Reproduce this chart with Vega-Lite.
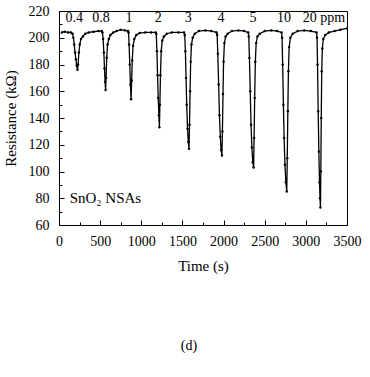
{
  "$schema": "https://vega.github.io/schema/vega-lite/v6.json",
  "width": 288,
  "height": 214,
  "padding": {"left": 3, "top": 4, "right": 20, "bottom": 5},
  "background": "white",
  "config": {
    "view": {"stroke": "black", "strokeWidth": 1},
    "font": "Liberation Serif",
    "axis": {
      "domainColor": "black",
      "tickColor": "black",
      "labelColor": "black",
      "titleColor": "black",
      "labelFont": "Liberation Serif",
      "titleFont": "Liberation Serif",
      "labelFontSize": 14,
      "titleFontSize": 15,
      "titleFontWeight": "normal",
      "labelOverlap": false,
      "labelFlush": false,
      "grid": false
    }
  },
  "title": {
    "text": "(d)",
    "orient": "bottom",
    "offset": 66,
    "anchor": "middle",
    "dx": -14,
    "font": "Liberation Serif",
    "fontSize": 14,
    "fontWeight": "normal",
    "color": "black"
  },
  "resolve": {"axis": {"x": "independent", "y": "independent"}},
  "layer": [
    {
      "data": {"name": "curve"},
      "mark": {"type": "line", "color": "black", "strokeWidth": 1.3, "point": {"filled": true, "size": 6, "color": "black"}},
      "encoding": {
        "x": {"field": "t", "type": "quantitative", "scale": {"domain": [0, 3500], "nice": false},
          "axis": {"title": "Time (s)", "format": "d", "values": [0, 500, 1000, 1500, 2000, 2500, 3000, 3500], "tickSize": -5, "labelPadding": 14, "titlePadding": 10}},
        "y": {"field": "r", "type": "quantitative", "scale": {"domain": [60, 220], "nice": false, "zero": false},
          "axis": {"title": "Resistance (kΩ)", "values": [60, 80, 100, 120, 140, 160, 180, 200, 220], "tickSize": -5, "labelPadding": 15, "titlePadding": 10}}
      }
    },
    {
      "data": {"name": "curve"},
      "mark": {"type": "point", "opacity": 0},
      "encoding": {
        "x": {"field": "t", "type": "quantitative",
          "axis": {"title": null, "labels": false, "domain": false, "values": [250, 750, 1250, 1750, 2250, 2750, 3250], "tickSize": -3, "orient": "bottom"}},
        "y": {"field": "r", "type": "quantitative",
          "axis": {"title": null, "labels": false, "domain": false, "values": [70, 90, 110, 130, 150, 170, 190, 210], "tickSize": -3, "orient": "left"}}
      }
    },
    {
      "data": {"name": "labels"},
      "mark": {"type": "text", "font": "Liberation Serif", "fontSize": 14, "color": "black", "align": "center", "baseline": "middle"},
      "encoding": {
        "x": {"field": "t", "type": "quantitative", "axis": null},
        "y": {"field": "r", "type": "quantitative", "axis": null},
        "text": {"field": "label"}
      }
    },
    {
      "data": {"name": "name"},
      "mark": {"type": "text", "font": "Liberation Serif", "fontSize": 15, "color": "black", "align": "left", "baseline": "middle"},
      "encoding": {
        "x": {"field": "t", "type": "quantitative", "axis": null},
        "y": {"field": "r", "type": "quantitative", "axis": null},
        "text": {"field": "label"}
      }
    }
  ],
  "datasets": {
    "labels": [
      {"t": 185, "r": 215, "label": "0.4"},
      {"t": 510, "r": 215, "label": "0.8"},
      {"t": 850, "r": 215, "label": "1"},
      {"t": 1205, "r": 215, "label": "2"},
      {"t": 1572, "r": 215, "label": "3"},
      {"t": 1968, "r": 215, "label": "4"},
      {"t": 2357, "r": 215, "label": "5"},
      {"t": 2735, "r": 215, "label": "10"},
      {"t": 3220, "r": 215, "label": "20 ppm"}
    ],
    "name": [
      {"t": 130, "r": 80, "label": "SnO₂ NSAs"}
    ],
    "curve": [
      {"t": 35, "r": 204},
      {"t": 70, "r": 204.5},
      {"t": 110, "r": 204},
      {"t": 145, "r": 204},
      {"t": 165, "r": 203},
      {"t": 175, "r": 200},
      {"t": 185, "r": 195},
      {"t": 195, "r": 189},
      {"t": 205, "r": 184},
      {"t": 215, "r": 179},
      {"t": 225, "r": 176},
      {"t": 232, "r": 180},
      {"t": 242, "r": 189},
      {"t": 252, "r": 195},
      {"t": 267, "r": 199},
      {"t": 290, "r": 201},
      {"t": 320, "r": 203},
      {"t": 360, "r": 204},
      {"t": 420, "r": 204.5},
      {"t": 480, "r": 205},
      {"t": 520, "r": 205},
      {"t": 528, "r": 204},
      {"t": 536, "r": 199},
      {"t": 545, "r": 189},
      {"t": 553, "r": 177},
      {"t": 560, "r": 167},
      {"t": 566, "r": 161},
      {"t": 572, "r": 170},
      {"t": 580, "r": 185},
      {"t": 590, "r": 195},
      {"t": 605, "r": 199},
      {"t": 625, "r": 202},
      {"t": 660, "r": 204},
      {"t": 700, "r": 205},
      {"t": 750, "r": 206},
      {"t": 800, "r": 205.5},
      {"t": 840, "r": 205},
      {"t": 845, "r": 204},
      {"t": 852, "r": 195},
      {"t": 860, "r": 180},
      {"t": 868, "r": 165},
      {"t": 876, "r": 154},
      {"t": 883, "r": 168},
      {"t": 890, "r": 183},
      {"t": 900, "r": 194},
      {"t": 915, "r": 199},
      {"t": 940, "r": 202},
      {"t": 980, "r": 203.5},
      {"t": 1050, "r": 204},
      {"t": 1120, "r": 204},
      {"t": 1175, "r": 204},
      {"t": 1182, "r": 203},
      {"t": 1190, "r": 190},
      {"t": 1198, "r": 172},
      {"t": 1206, "r": 155},
      {"t": 1214, "r": 142},
      {"t": 1220, "r": 133},
      {"t": 1226, "r": 150},
      {"t": 1233, "r": 172},
      {"t": 1242, "r": 190},
      {"t": 1255, "r": 198},
      {"t": 1275, "r": 201},
      {"t": 1310, "r": 203},
      {"t": 1370, "r": 204},
      {"t": 1450, "r": 204},
      {"t": 1520, "r": 204},
      {"t": 1528, "r": 202},
      {"t": 1536, "r": 190},
      {"t": 1544, "r": 170},
      {"t": 1552, "r": 150},
      {"t": 1562, "r": 132},
      {"t": 1572, "r": 122},
      {"t": 1580, "r": 117},
      {"t": 1586, "r": 135},
      {"t": 1593, "r": 160},
      {"t": 1600, "r": 182},
      {"t": 1610, "r": 195},
      {"t": 1625, "r": 200},
      {"t": 1650, "r": 203},
      {"t": 1700, "r": 205},
      {"t": 1780, "r": 205.5},
      {"t": 1850, "r": 205},
      {"t": 1915, "r": 204},
      {"t": 1922, "r": 202},
      {"t": 1930, "r": 188},
      {"t": 1940, "r": 165},
      {"t": 1950, "r": 142},
      {"t": 1960, "r": 126},
      {"t": 1970, "r": 116},
      {"t": 1980, "r": 112},
      {"t": 1986, "r": 130},
      {"t": 1993, "r": 158},
      {"t": 2000, "r": 182},
      {"t": 2010, "r": 196},
      {"t": 2025, "r": 201},
      {"t": 2050, "r": 203},
      {"t": 2100, "r": 205},
      {"t": 2180, "r": 205.5},
      {"t": 2250, "r": 205},
      {"t": 2300, "r": 204},
      {"t": 2306, "r": 201},
      {"t": 2314, "r": 185},
      {"t": 2324, "r": 160},
      {"t": 2334, "r": 135},
      {"t": 2344, "r": 118},
      {"t": 2355, "r": 107},
      {"t": 2365, "r": 103},
      {"t": 2371, "r": 125},
      {"t": 2378, "r": 155},
      {"t": 2386, "r": 182},
      {"t": 2396, "r": 196},
      {"t": 2412, "r": 201},
      {"t": 2440, "r": 203},
      {"t": 2500, "r": 205},
      {"t": 2580, "r": 205.5},
      {"t": 2650, "r": 205},
      {"t": 2705, "r": 204},
      {"t": 2711, "r": 200},
      {"t": 2718, "r": 180},
      {"t": 2727, "r": 150},
      {"t": 2736, "r": 125},
      {"t": 2746, "r": 105},
      {"t": 2757, "r": 92},
      {"t": 2768, "r": 85},
      {"t": 2774, "r": 110},
      {"t": 2781, "r": 145},
      {"t": 2788, "r": 175},
      {"t": 2797, "r": 193},
      {"t": 2812, "r": 200},
      {"t": 2840, "r": 203},
      {"t": 2900, "r": 205},
      {"t": 2980, "r": 205.5},
      {"t": 3060, "r": 205},
      {"t": 3130, "r": 204},
      {"t": 3136, "r": 200},
      {"t": 3142, "r": 180},
      {"t": 3150, "r": 145},
      {"t": 3158, "r": 115},
      {"t": 3166, "r": 92},
      {"t": 3172, "r": 80},
      {"t": 3177, "r": 73},
      {"t": 3182, "r": 100},
      {"t": 3187, "r": 140},
      {"t": 3193, "r": 175},
      {"t": 3200, "r": 192},
      {"t": 3212, "r": 199},
      {"t": 3235, "r": 202},
      {"t": 3280, "r": 204},
      {"t": 3350, "r": 205},
      {"t": 3420, "r": 206},
      {"t": 3500, "r": 207}
    ]
  }
}
